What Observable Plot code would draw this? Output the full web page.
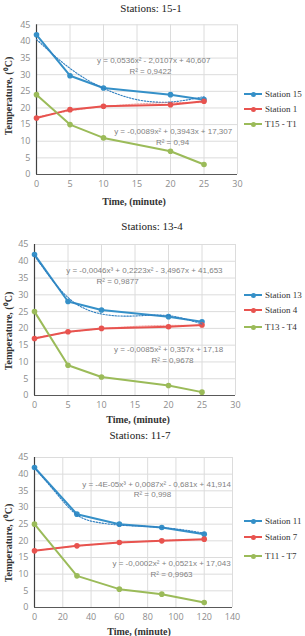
<!DOCTYPE html>
<html>
<head>
<meta charset="utf-8">
<script src="https://cdn.jsdelivr.net/npm/d3@7"></script>
<script src="https://cdn.jsdelivr.net/npm/@observablehq/plot@0.6"></script>
<style>
  html, body { margin: 0; padding: 0; background: #fff; }
  #root { position: relative; width: 305px; height: 636px; overflow: hidden; }
  .title { position: absolute; font-family: "Liberation Serif", serif; font-size: 11px; color: #222; transform: translate(-50%, -50%); white-space: nowrap; }
  .xtitle { position: absolute; font-family: "Liberation Serif", serif; font-size: 10px; font-weight: bold; color: #333; transform: translate(-50%, -50%); white-space: nowrap; }
  .ytitle { position: absolute; font-family: "Liberation Serif", serif; font-size: 10px; font-weight: bold; color: #333; transform: translate(-50%, -50%) rotate(-90deg); white-space: nowrap; }
  .leg { position: absolute; left: 244px; height: 12px; transform: translateY(-50%); display: flex; align-items: center; font-family: "Liberation Serif", serif; font-size: 9px; color: #333; white-space: nowrap; }
  .sw { position: relative; width: 18px; height: 2px; margin-right: 3px; }
  .sw i { position: absolute; left: 6.5px; top: -1.5px; width: 5px; height: 5px; border-radius: 50%; }
  .plot { position: absolute; left: 0; }
</style>
</head>
<body>
<div id="root"></div>
<script>
// ---------- data ----------
const titles = ["Stations: 15-1", "Stations: 13-4", "Stations: 11-7"];
const xTitle = "Time, (minute)";
const yTitle = "Temperature, (\u2070C)";
const yTicks = [0, 5, 10, 15, 20, 25, 30, 35, 40, 45];

// Panel 1
const time1 = [0, 5, 10, 20, 25];
const station15 = [42, 29.7, 26, 24, 22.5];
const station1 = [17, 19.5, 20.5, 21, 22];
const diff15_1 = [24, 15, 11, 7, 3];
const trendTime1 = [0, 5, 10, 15, 20, 25];
const trend15 = [40.6, 31.9, 25.9, 22.5, 21.8, 23.4];
const trend1 = [17.3, 19.1, 20.4, 21.2, 21.6, 21.6];
const legend1 = ["Station 15", "Station 1", "T15 - T1"];
const eq1 = ["y = 0,0536x\u00b2 - 2,0107x + 40,607", "R\u00b2 = 0,9422", "y = -0,0089x\u00b2 + 0,3943x + 17,307", "R\u00b2 = 0,94"];
const xTicks1 = [0, 5, 10, 15, 20, 25, 30];

// Panel 2
const time2 = [0, 5, 10, 20, 25];
const station13 = [42, 28, 25.5, 23.5, 22];
const station4 = [17, 19, 20, 20.5, 21];
const diff13_4 = [25, 9, 5.5, 3, 1];
const trendTime2 = [0, 5, 10, 15, 20, 25];
const trend13 = [41.7, 29.2, 24.3, 23.7, 23.8, 21.3];
const trend4 = [17.2, 18.8, 19.9, 20.6, 20.9, 20.8];
const legend2 = ["Station 13", "Station 4", "T13 - T4"];
const eq2 = ["y = -0,0046x\u00b3 + 0,2223x\u00b2 - 3,4967x + 41,653", "R\u00b2 = 0,9877", "y = -0,0085x\u00b2 + 0,357x + 17,18", "R\u00b2 = 0,9678"];
const xTicks2 = [0, 5, 10, 15, 20, 25, 30];

// Panel 3
const time3 = [0, 30, 60, 90, 120];
const station11 = [42, 28, 25, 24, 22];
const station7 = [17, 18.5, 19.5, 20, 20.5];
const diff11_7 = [25, 9.5, 5.5, 4, 1.5];
const trendTime3 = [0, 15, 30, 45, 60, 75, 90, 105, 120];
const trend11 = [41.9, 34.5, 27.8, 25.5, 24.7, 24.4, 24.0, 23.3, 22.3];
const trend7 = [17.0, 17.8, 18.4, 19.0, 19.5, 19.8, 20.1, 20.3, 20.4];
const legend3 = ["Station 11", "Station 7", "T11 - T7"];
const eq3 = ["y = -4E-05x\u00b3 + 0,0087x\u00b2 - 0,681x + 41,914", "R\u00b2 = 0,998", "y = -0,0002x\u00b2 + 0,0521x + 17,043", "R\u00b2 = 0,9963"];
const xTicks3 = [0, 20, 40, 60, 80, 100, 120, 140];

const colors = ["#3590c8", "#e8534f", "#9bbb59"];

// ---------- helpers ----------
const zip = (xs, ys) => xs.map((x, i) => ({x, y: ys[i]}));
const root = document.getElementById("root");

function addDiv(cls, text, left, top) {
  const d = document.createElement("div");
  d.className = cls;
  d.textContent = text;
  d.style.left = left + "px";
  d.style.top = top + "px";
  root.appendChild(d);
  return d;
}

function panel(cfg) {
  const series = [cfg.a, cfg.b, cfg.c].map(ys => zip(cfg.time, ys));
  const trA = zip(cfg.trendTime, cfg.trA);
  const trB = zip(cfg.trendTime, cfg.trB);
  const eqMarks = cfg.eq.map((t, i) => Plot.text([t], {
    x: () => cfg.eqPos[i][0], y: () => cfg.eqPos[i][1], text: d => d,
    fill: "#7f7f7f", fontSize: 8, fontFamily: "'Liberation Sans', sans-serif"
  }));
  const chart = Plot.plot({
    width: cfg.right + 10,
    height: cfg.height,
    marginLeft: cfg.left,
    marginRight: 10,
    marginTop: cfg.mt,
    marginBottom: cfg.height - cfg.mt - cfg.ph,
    style: {background: "transparent", fontFamily: "'Open Sans', sans-serif", overflow: "visible"},
    x: {domain: cfg.xdomain, ticks: cfg.xTicks, tickSize: 0, tickPadding: 6, label: null},
    y: {domain: [0, 45], ticks: yTicks, tickSize: 0, tickPadding: 6, label: null},
    marks: [
      Plot.gridX(cfg.xTicks, {stroke: "#dcdcdc", strokeOpacity: 1}),
      Plot.gridY(yTicks, {stroke: "#dcdcdc", strokeOpacity: 1}),
      Plot.axisX(cfg.xTicks, {tickSize: 0, tickPadding: 6, fill: "#8c8c8c", fontSize: 9, label: null}),
      Plot.axisY(yTicks, {tickSize: 0, tickPadding: 6, fill: "#8c8c8c", fontSize: 9, label: null}),
      Plot.ruleY([0], {stroke: "#595959", strokeWidth: 1.2}),
      Plot.ruleX([0], {stroke: "#404040", strokeWidth: 1.2}),
      ...series.map((s, i) => Plot.line(s, {x: "x", y: "y", stroke: colors[i], strokeWidth: 2})),
      ...series.map((s, i) => Plot.dot(s, {x: "x", y: "y", r: 2.8, fill: colors[i], stroke: "none"})),
      Plot.line(trA, {x: "x", y: "y", stroke: "#2f7fc0", strokeWidth: 1.1, strokeDasharray: "1.5,1.5", curve: "natural"}),
      Plot.line(trB, {x: "x", y: "y", stroke: "#e8534f", strokeWidth: 1, strokeDasharray: "1.5,1.5", strokeOpacity: 0.6, curve: "natural"}),
      ...eqMarks
    ]
  });
  chart.classList.add("plot");
  chart.style.top = cfg.top + "px";
  root.appendChild(chart);

  addDiv("title", cfg.title, cfg.titlePos[0], cfg.titlePos[1]);
  addDiv("xtitle", xTitle, cfg.xtPos[0], cfg.xtPos[1]);
  addDiv("ytitle", yTitle, 8, cfg.ytY);
  cfg.legend.forEach((t, i) => {
    const d = addDiv("leg", "", 244, cfg.legY[i]);
    const sw = document.createElement("span");
    sw.className = "sw";
    sw.style.background = colors[i];
    const dot = document.createElement("i");
    dot.style.background = colors[i];
    sw.appendChild(dot);
    d.appendChild(sw);
    d.appendChild(document.createTextNode(t));
  });
}

panel({
  title: titles[0], titlePos: [151, 8], xtPos: [134, 201], ytY: 96,
  time: time1, a: station15, b: station1, c: diff15_1,
  trendTime: trendTime1, trA: trend15, trB: trend1,
  legend: legend1, legY: [94, 109, 124],
  eq: eq1, eqPos: [[17.5, 34.2], [17.0, 30.9], [20.4, 13.0], [20.3, 9.7]],
  xdomain: [0, 30], xTicks: xTicks1,
  top: 10, height: 182, mt: 14.3, ph: 149.7, left: 36, right: 237
});

panel({
  title: titles[1], titlePos: [152, 226], xtPos: [138, 419], ytY: 331,
  time: time2, a: station13, b: station4, c: diff13_4,
  trendTime: trendTime2, trA: trend13, trB: trend4,
  legend: legend2, legY: [295, 310, 327],
  eq: eq2, eqPos: [[16.4, 37.3], [12.4, 34.0], [20.0, 13.8], [20.6, 10.5]],
  xdomain: [0, 30], xTicks: xTicks2,
  top: 230, height: 183, mt: 14, ph: 151, left: 34, right: 235
});

panel({
  title: titles[2], titlePos: [140, 435], xtPos: [139, 631], ytY: 543,
  time: time3, a: station11, b: station7, c: diff11_7,
  trendTime: trendTime3, trA: trend11, trB: trend7,
  legend: legend3, legY: [521, 537, 556],
  eq: eq3, eqPos: [[86.3, 37.0], [83.4, 34.0], [96.9, 13.3], [96.9, 10.0]],
  xdomain: [0, 140], xTicks: xTicks3,
  top: 443, height: 182, mt: 14, ph: 150, left: 34, right: 232
});
</script>
</body>
</html>
